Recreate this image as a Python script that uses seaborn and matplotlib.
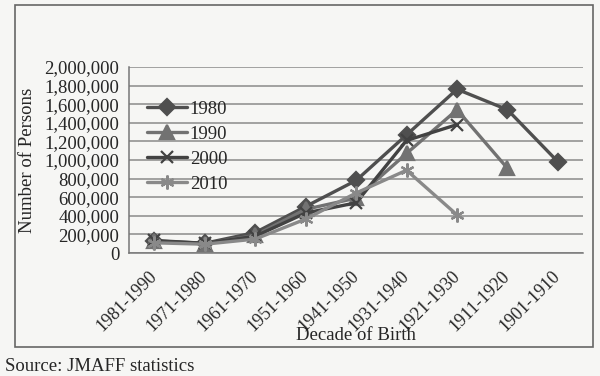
import numpy as np
import pandas as pd
import matplotlib
matplotlib.use('Agg')
import matplotlib.pyplot as plt
import matplotlib.patches as patches
import seaborn as sns

decades = ['1981-1990', '1971-1980', '1961-1970', '1951-1960', '1941-1950',
           '1931-1940', '1921-1930', '1911-1920', '1901-1910']
nan = np.nan
y1980 = [130000, 105000, 220000, 500000, 780000, 1270000, 1760000, 1540000, 980000]
y1990 = [125000, 100000, 190000, 470000, 590000, 1070000, 1540000, 910000, nan]
y2000 = [135000, 105000, 180000, 430000, 540000, 1210000, 1380000, nan, nan]
y2010 = [110000, 95000, 150000, 365000, 645000, 890000, 410000, nan, nan]
series = ['1980', '1990', '2000', '2010']

rows = []
for name, vals in zip(series, [y1980, y1990, y2000, y2010]):
    for i, v in enumerate(vals):
        rows.append({'pos': i, 'persons': v, 'year': name})
df = pd.DataFrame(rows).dropna()

sns.set_style('white')
plt.rcParams['font.family'] = ['Liberation Serif', 'DejaVu Serif']
bg = '#f6f6f4'

fig = plt.figure(figsize=(6, 3.76), dpi=100, facecolor=bg)
ax = fig.add_axes([0.215, 0.327, 0.757, 0.495])
ax.set_facecolor(bg)

palette = {'1980': '#4f4f4f', '1990': '#727272', '2000': '#424242', '2010': '#898989'}
markers = {'1980': 'D', '1990': '^', '2000': 'x', '2010': (6, 2, 0)}
sizes = {'1980': 8, '1990': 9.5, '2000': 9, '2010': 10}
for name in series:
    sub = df[df['year'] == name]
    c = palette[name]
    sns.lineplot(data=sub, x='pos', y='persons', color=c, marker=markers[name],
                 markersize=sizes[name], markeredgewidth=1.6, markeredgecolor=c,
                 markerfacecolor=c, linewidth=2.4, label=name, ax=ax)

ax.set_xlim(-0.5, len(decades) - 0.5)
ax.set_ylim(0, 2000000)
ax.set_yticks(np.arange(0, 2000001, 200000))
ax.set_yticklabels([f'{v:,}' for v in range(0, 2000001, 200000)], fontsize=13.5)
ax.yaxis.grid(True, color='#8a8a8a', linewidth=1.1)
ax.tick_params(axis='y', length=5, width=1, color='#777', pad=2)

ax.set_xticks(range(len(decades)))
ax.set_xticklabels(decades, rotation=45, ha='right', va='center',
                   rotation_mode='anchor', fontsize=13)
ax.set_xticks(np.arange(-0.5, len(decades), 1), minor=True)
ax.tick_params(axis='x', which='major', length=0, pad=15)
ax.tick_params(axis='x', which='minor', length=5, width=1, color='#777')

for s in ['top', 'right']:
    ax.spines[s].set_visible(False)
for s in ['left', 'bottom']:
    ax.spines[s].set_color('#777')
    ax.spines[s].set_linewidth(1.1)

ax.set_xlabel('Decade of Birth', fontsize=13.5)
ax.xaxis.set_label_coords(0.5, -0.40)
ax.set_ylabel('Number of Persons', fontsize=13.5)
ax.yaxis.set_label_coords(-0.205, 0.5)

ax.legend(loc='upper left', bbox_to_anchor=(0.02, 0.87), frameon=False,
          fontsize=13.5, handlelength=2.1, handletextpad=0.15, labelspacing=0.42,
          borderpad=0)

fig.patches.append(patches.Rectangle((0.025, 0.077), 0.963, 0.91, transform=fig.transFigure,
                                     fill=False, edgecolor='#666', linewidth=1.2))
fig.text(0.008, 0.012, 'Source: JMAFF statistics', fontsize=13.5, va='baseline')

fig.savefig('out.png', dpi=100, facecolor=bg)
